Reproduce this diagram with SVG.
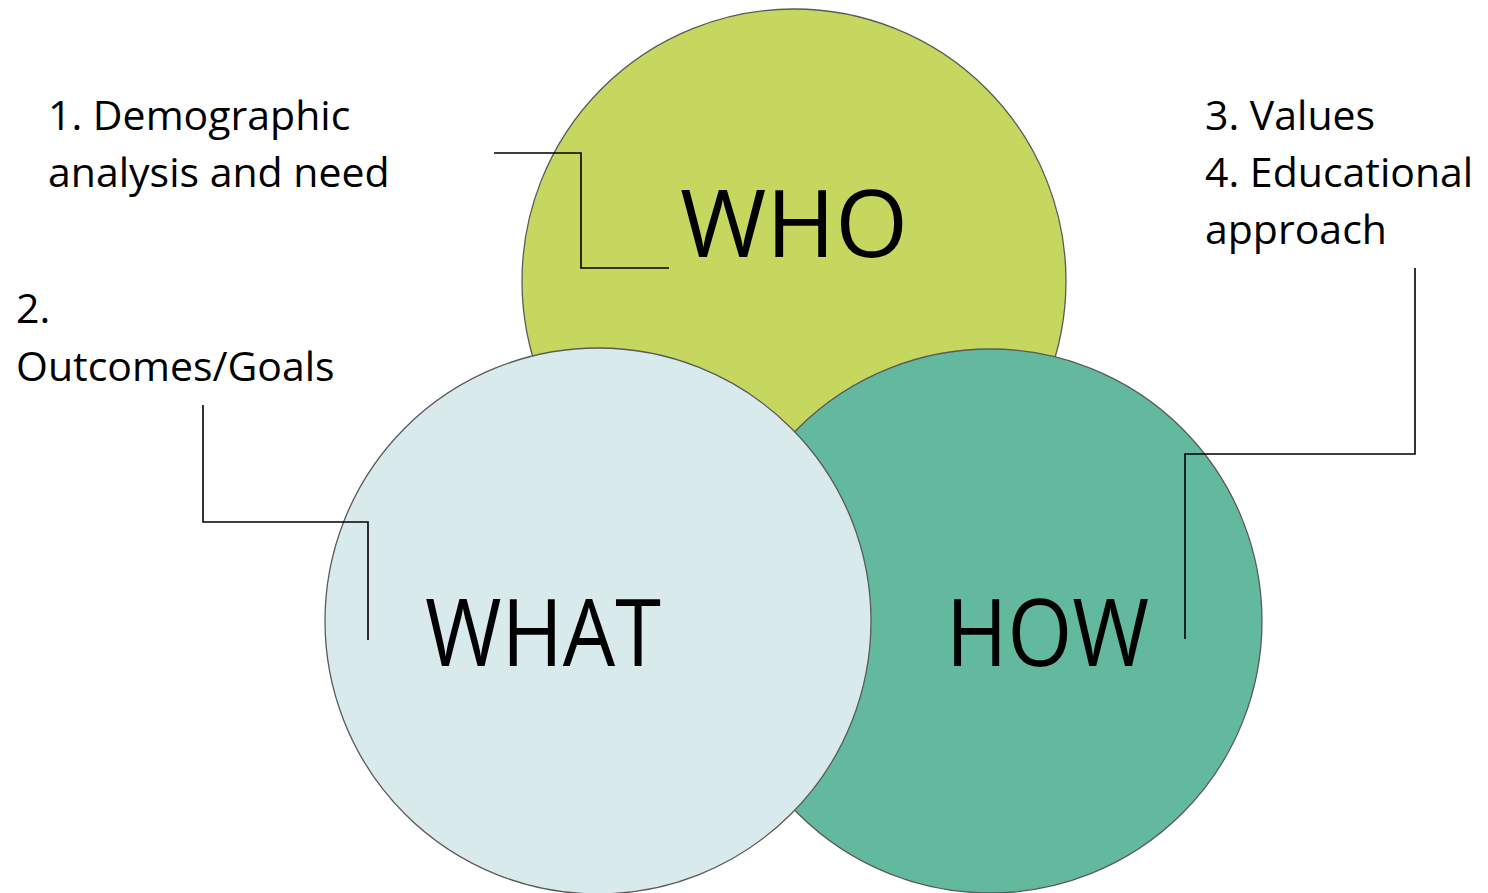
<svg xmlns="http://www.w3.org/2000/svg" width="1488" height="893" viewBox="0 0 1488 893">
<style>
.c{stroke:#5a5a5a;stroke-width:1.3}
.big{font-family:"Open Sans","Liberation Sans",sans-serif;font-size:94px;fill:#000}
.lbl{font-family:"Open Sans","Liberation Sans",sans-serif;font-size:41px;fill:#000}
.ln{fill:none;stroke:#000;stroke-width:1.6}
</style>
<rect width="1488" height="893" fill="#fff"/>
<g id="who">
<circle class="c" cx="794" cy="281" r="272" fill="#C5D75E"/>
</g>
<g id="how">
<circle class="c" cx="990" cy="621" r="272" fill="#63B99E"/>
</g>
<g id="what">
<circle class="c" cx="598" cy="621" r="273" fill="#D8EAEC"/>
</g>
<g id="connectors">
<polyline class="ln" points="494,153 581,153 581,268 669,268"/>
<polyline class="ln" points="203,405 203,522 368,522 368,640"/>
<polyline class="ln" points="1415,268 1415,454 1185,454 1185,639"/>
</g>
<g id="labels">
<text class="big" x="680" y="257" textLength="228" lengthAdjust="spacingAndGlyphs">WHO</text>
<text class="big" x="425" y="666" textLength="236" lengthAdjust="spacingAndGlyphs">WHAT</text>
<text class="big" x="946" y="666" textLength="203" lengthAdjust="spacingAndGlyphs">HOW</text>
</g>
<g id="notes">
<text class="lbl" x="48" y="130">1. Demographic</text>
<text class="lbl" x="48" y="187">analysis and need</text>
<text class="lbl" x="16" y="323">2.</text>
<text class="lbl" x="16" y="381">Outcomes/Goals</text>
<text class="lbl" x="1205" y="130">3. Values</text>
<text class="lbl" x="1205" y="187">4. Educational</text>
<text class="lbl" x="1205" y="244">approach</text>
</g>
</svg>
